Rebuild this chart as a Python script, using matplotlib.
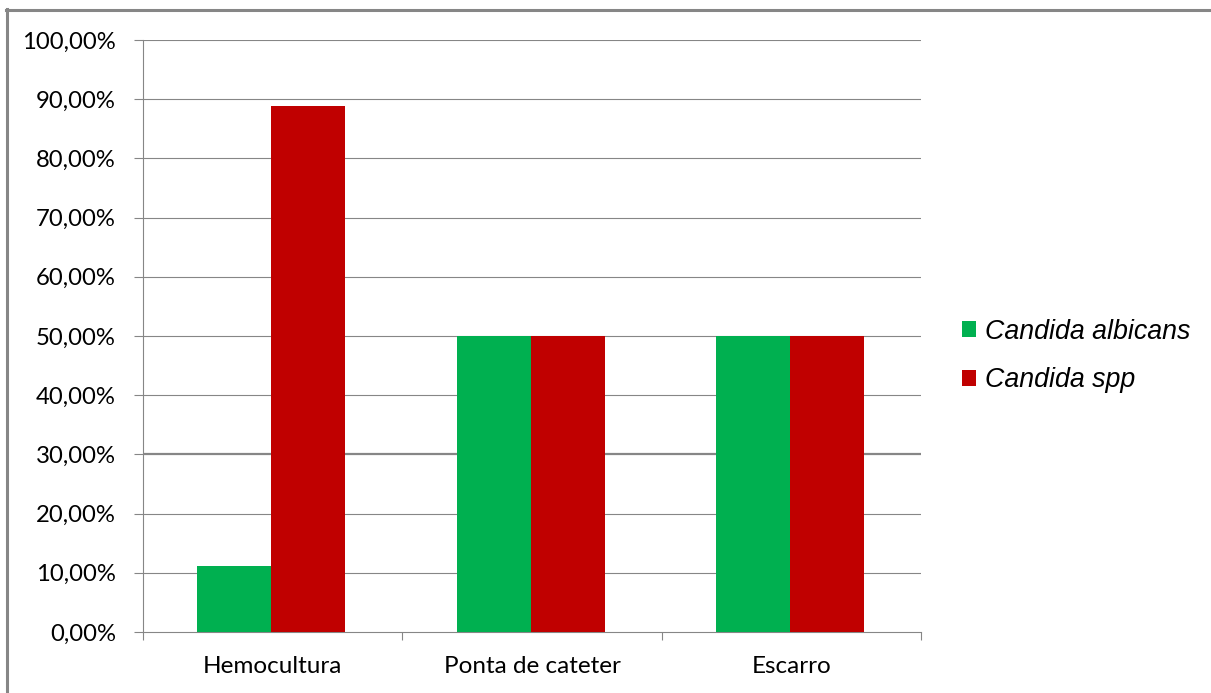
import matplotlib
matplotlib.use("Agg")
import matplotlib.pyplot as plt
from matplotlib.patches import Patch
from matplotlib.lines import Line2D
import numpy as np

# dados por tipo de amostra
categorias = ["Hemocultura", "Ponta de cateter", "Escarro"]
albicans = [11.11, 50.0, 50.0]
spp = [88.89, 50.0, 50.0]
series = ["Candida albicans", "Candida spp"]
y_ticks = [0, 10, 20, 30, 40, 50, 60, 70, 80, 90, 100]
y_labels = [f"{v:.2f}%".replace(".", ",") for v in y_ticks]

verde = "#00B050"
vermelho = "#C00000"
cinza = "#868686"

fig = plt.figure(figsize=(12.11, 6.93), dpi=100)
fig.patch.set_facecolor("white")
ax = fig.add_axes([143 / 1211, 1 - 632 / 693, 778 / 1211, 592 / 693])

x = np.arange(len(categorias))
w = 0.285
ax.bar(x - w / 2 - 0.005, albicans, width=w, color=verde, zorder=3)
ax.bar(x + w / 2 - 0.005, spp, width=w, color=vermelho, zorder=3)

ax.set_xlim(-0.5, len(categorias) - 0.5)
ax.set_ylim(0, 100)
ax.set_yticks(y_ticks)
ax.set_yticklabels(y_labels, fontsize=17.2, family="Lato")
ax.set_xticks(x)
ax.set_xticklabels(categorias, fontsize=17.5, family="Lato")
ax.set_xticks(np.arange(-0.5, len(categorias)), minor=True)

ax.tick_params(axis="y", length=6.5, width=0.8, color=cinza, pad=13)
ax.tick_params(axis="x", which="major", length=0, pad=17)
ax.tick_params(axis="x", which="minor", length=6, width=0.8, color=cinza)

# linhas de grade
for v in y_ticks[1:]:
    lw = 1.6 if v == 30 else 0.8
    ax.axhline(v, color=cinza, linewidth=lw, zorder=1)

for s in ["top", "right"]:
    ax.spines[s].set_visible(False)
for s in ["left", "bottom"]:
    ax.spines[s].set_color(cinza)
    ax.spines[s].set_linewidth(0.8)

handles = [Patch(facecolor=verde), Patch(facecolor=vermelho)]
leg = fig.legend(handles, series, loc="center left",
                 bbox_to_anchor=(938 / 1211, 1 - 356 / 693), frameon=False,
                 handlelength=0.5, handleheight=0.5, handletextpad=0.35,
                 labelspacing=0.85,
                 prop={"family": "Liberation Sans", "style": "italic", "size": 19.3})

# moldura externa
fig.add_artist(Line2D([7 / 1211, 7 / 1211], [0, 1 - 9 / 693],
                      transform=fig.transFigure, color=cinza, linewidth=2.2))
fig.add_artist(Line2D([6 / 1211, 1], [1 - 10 / 693, 1 - 10 / 693],
                      transform=fig.transFigure, color=cinza, linewidth=2.2))

fig.savefig("out.png", dpi=100)
